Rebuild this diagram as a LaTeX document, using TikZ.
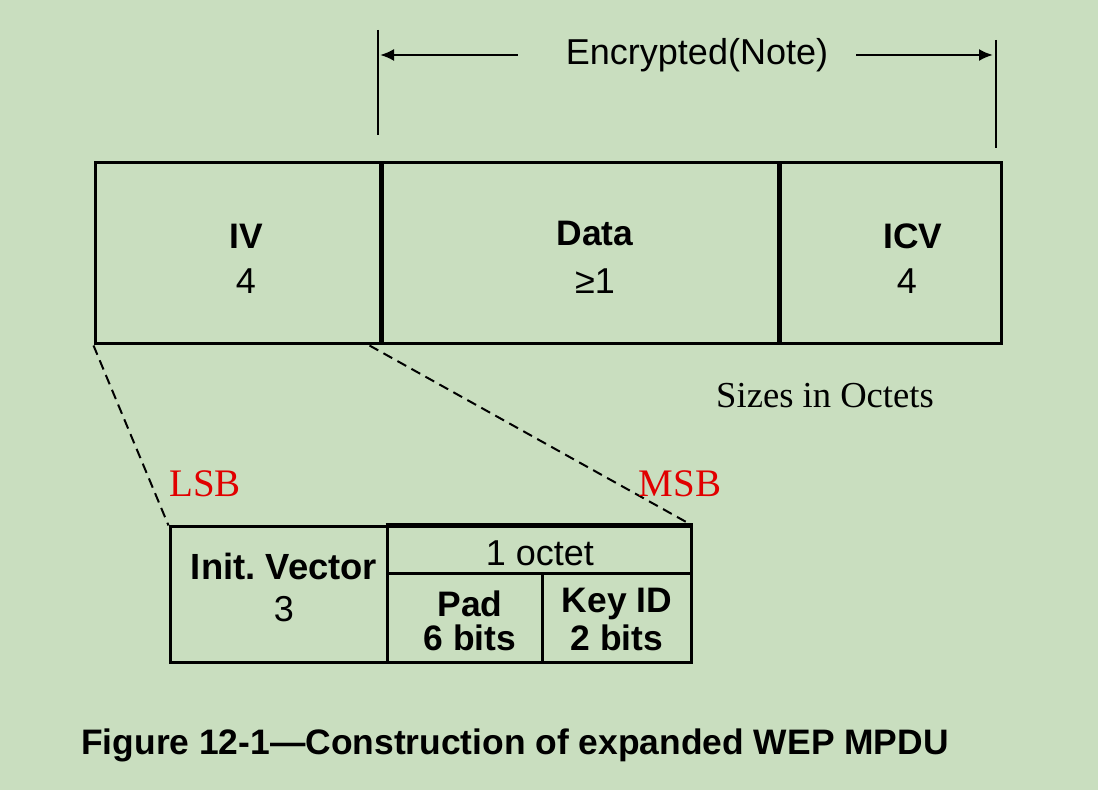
\documentclass[tikz,border=0pt]{standalone}
\usepackage{fontspec}
\setmainfont{Liberation Sans}
\newfontfamily\serifface{Liberation Serif}
\usetikzlibrary{fit,arrows.meta}
\definecolor{bg}{RGB}{201,222,191}
\definecolor{bitred}{RGB}{225,0,0}
\frenchspacing

\begin{document}
\begin{tikzpicture}[x=0.5pt,y=-0.5pt,
  frame/.style={draw, line width=1.5pt, inner sep=0pt},
  divider/.style={line width=2.3pt},
  fieldname/.style={font=\fontsize{17.7}{20}\selectfont\bfseries, inner sep=0pt},
  fieldsize/.style={font=\fontsize{18}{20}\selectfont, inner sep=0pt},
  bitlabel/.style={font=\serifface\fontsize{19.5}{22}\selectfont, text=bitred, inner sep=0pt},
  marker/.style={line width=1.2pt},
  span/.style={line width=1.1pt, -{Latex[length=7pt,width=6pt]}},
  zoomline/.style={line width=1pt, dash pattern=on 5pt off 3pt}]

% background and page size
\fill[bg] (0,0) rectangle (1098,790);
\useasboundingbox (0,0) rectangle (1098,790);

% expanded MPDU fields
\node[frame, fit={(95,163) (380,344)}] (iv) {};
\node[frame, fit={(380,163) (778,344)}] (data) {};
\node[frame, fit={(778,163) (1001,344)}] (icv) {};
\draw[divider] (iv.north east) -- (iv.south east);
\draw[divider] (data.north east) -- (data.south east);

\node[fieldname] (ivname) at (246,236) {IV};
\node[fieldsize] (ivsize) at (246,281) {4};
\node[fieldname] (dataname) at (595,234) {Data};
\node[fieldsize] (datasize) at (595,281) {≥1};
\node[fieldname] (icvname) at (913,236) {ICV};
\node[fieldsize] (icvsize) at (907,281) {4};

% encrypted span
\coordinate (lt) at (378,30);
\coordinate (lb) at (378,135);
\coordinate (rt) at (996,40);
\coordinate (rb) at (996,148);
\draw[marker] (lt) -- (lb);
\draw[marker] (rt) -- (rb);
\node[fieldsize] (enc) at (697,55) {Encrypted(Note)};
\draw[span] ([xshift=-24pt]enc.west) -- ([xshift=1pt]enc.west -| lt);
\draw[span] ([xshift=14pt]enc.east) -- ([xshift=-1.5pt]enc.east -| rt);

\node[font=\serifface\fontsize{18.3}{22}\selectfont, inner sep=0pt] (units) at (825,396) {Sizes in Octets};

% IV field breakdown
\node[frame, fit={(170,527) (387,663)}] (initv) {};
\node[frame, fit={(387,527) (691,574)}] (octet) {};
\node[frame, fit={(387,574) (542,663)}] (pad) {};
\node[frame, fit={(542,574) (691,663)}] (keyid) {};
\draw[line width=2.6pt] (octet.north west) -- (octet.north east);

\node[fieldname, font=\fontsize{18.2}{20}\selectfont\bfseries] (initname) at (284,566) {Init. Vector};
\node[fieldsize] (initsize) at (284,609) {3};
\node[fieldsize] (octetname) at (540,553) {1 octet};
\node[fieldname] (padname) at (470,604) {Pad};
\node[fieldname] (padsize) at (470,638) {6 bits};
\node[fieldname] (keyname) at (617,604) {Key ID};
\node[fieldname] (keysize) at (617,638) {2 bits};

% expansion lines
\draw[zoomline] (iv.south west) -- (initv.north west);
\draw[zoomline] ([xshift=-6pt]iv.south east) -- (octet.north east);
\node[bitlabel] (lsb) at (205,484) {LSB};
\node[bitlabel] (msb) at (680,484) {MSB};

% caption
\node[fieldname] (caption) at (515,745) {Figure 12-1—Construction of expanded WEP MPDU};
\end{tikzpicture}
\end{document}
